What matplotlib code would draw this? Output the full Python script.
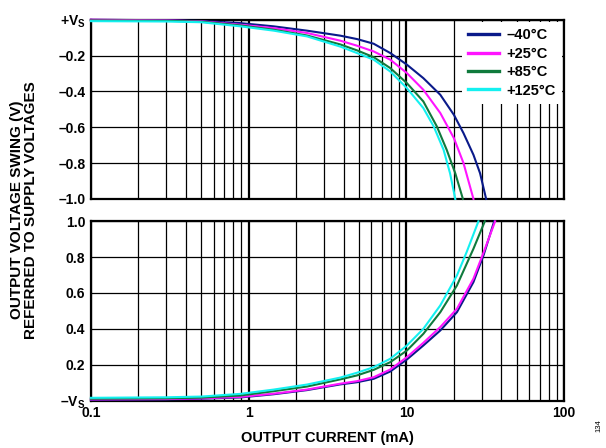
import numpy as np
import matplotlib
matplotlib.use("Agg")
from matplotlib import pyplot as plt
from matplotlib.ticker import FixedLocator, NullFormatter

plt.rcParams['font.family'] = ['Liberation Sans', 'DejaVu Sans']
plt.rcParams['font.weight'] = 'bold'
plt.rcParams['mathtext.fontset'] = 'custom'
plt.rcParams['mathtext.rm'] = 'Liberation Sans:bold'
plt.rcParams['mathtext.it'] = 'Liberation Sans:bold'
plt.rcParams['mathtext.bf'] = 'Liberation Sans:bold'

# series labels / colours
labels = ['–40°C', '+25°C', '+85°C', '+125°C']
colors = ['#0a1a8a', '#ff14ff', '#0f7a3c', '#14f0f0']

# top panel: swing from +Vs (V), x = output current (mA)
top_cur_m40 = [0.1, 0.3, 0.5, 0.887, 1.44, 2.34, 3.81, 4.86, 6.2, 7.9, 10.07, 12.8, 16.4, 20.0, 23.0, 26.6, 29.3, 32.0]
top_v_m40 = [0.0, -0.003, -0.007, -0.019, -0.037, -0.061, -0.089, -0.108, -0.134, -0.186, -0.251, -0.326, -0.419, -0.531, -0.633, -0.754, -0.857, -1.0]
top_cur_25 = [0.1, 0.3, 0.5, 0.887, 1.44, 2.34, 3.81, 4.86, 6.2, 7.9, 10.07, 12.8, 16.4, 20.0, 23.0, 26.6]
top_v_25 = [0.0, -0.004, -0.009, -0.028, -0.047, -0.074, -0.117, -0.145, -0.177, -0.223, -0.298, -0.391, -0.521, -0.661, -0.80, -1.0]
top_cur_85 = [0.1, 0.3, 0.5, 0.887, 1.44, 2.34, 3.81, 4.86, 6.2, 7.9, 10.07, 12.8, 15.6, 18.0, 20.4, 22.8]
top_v_85 = [-0.004, -0.006, -0.011, -0.032, -0.056, -0.088, -0.138, -0.171, -0.209, -0.27, -0.354, -0.456, -0.596, -0.726, -0.857, -1.0]
top_cur_125 = [0.1, 0.3, 0.5, 0.887, 1.44, 2.34, 3.81, 4.86, 6.2, 7.9, 10.07, 12.8, 14.9, 17.2, 18.9, 20.4]
top_v_125 = [-0.008, -0.01, -0.014, -0.037, -0.061, -0.093, -0.15, -0.186, -0.223, -0.289, -0.382, -0.493, -0.596, -0.726, -0.857, -1.0]

# bottom panel: swing from -Vs (V)
bot_cur_m40 = [0.1, 0.3, 0.5, 0.887, 1.44, 2.34, 3.81, 4.86, 6.2, 7.9, 10.07, 12.8, 16.4, 20.9, 26.6, 30.8, 36.0]
bot_v_m40 = [0.004, 0.006, 0.01, 0.017, 0.035, 0.058, 0.09, 0.102, 0.121, 0.162, 0.229, 0.307, 0.391, 0.493, 0.661, 0.81, 1.0]
bot_cur_25 = [0.1, 0.3, 0.5, 0.887, 1.44, 2.34, 3.81, 4.86, 6.2, 7.9, 10.07, 12.8, 16.4, 20.9, 26.6, 30.8, 36.5]
bot_v_25 = [0.006, 0.008, 0.012, 0.02, 0.038, 0.061, 0.094, 0.108, 0.130, 0.173, 0.242, 0.322, 0.41, 0.512, 0.68, 0.825, 1.0]
bot_cur_85 = [0.1, 0.3, 0.5, 0.887, 1.44, 2.34, 3.81, 4.86, 6.2, 7.9, 10.07, 12.8, 16.4, 20.9, 26.6, 31.4]
bot_v_85 = [0.01, 0.012, 0.016, 0.028, 0.052, 0.078, 0.118, 0.14, 0.171, 0.214, 0.279, 0.372, 0.493, 0.642, 0.847, 1.0]
bot_cur_125 = [0.1, 0.3, 0.5, 0.887, 1.44, 2.34, 3.81, 4.86, 6.2, 7.9, 10.07, 12.8, 16.4, 20.9, 24.1, 28.6]
bot_v_125 = [0.015, 0.018, 0.022, 0.037, 0.061, 0.089, 0.128, 0.155, 0.186, 0.233, 0.307, 0.4, 0.531, 0.698, 0.829, 1.0]

top_ticks = [0.0, -0.2, -0.4, -0.6, -0.8, -1.0]
top_ticklabels = ['+V$_\\mathregular{S}$', '–0.2', '–0.4', '–0.6', '–0.8', '–1.0']
bot_ticks = [0.0, 0.2, 0.4, 0.6, 0.8, 1.0]
bot_ticklabels = ['–V$_\\mathregular{S}$', '0.2', '0.4', '0.6', '0.8', '1.0']
x_ticks = [0.1, 1, 10, 100]
x_ticklabels = ['0.1', '1', '10', '100']

top_series = [(top_cur_m40, top_v_m40), (top_cur_25, top_v_25), (top_cur_85, top_v_85), (top_cur_125, top_v_125)]
bot_series = [(bot_cur_m40, bot_v_m40), (bot_cur_25, bot_v_25), (bot_cur_85, bot_v_85), (bot_cur_125, bot_v_125)]

fig = plt.figure(figsize=(6.06, 4.48), dpi=100)
ax1 = fig.add_axes([0.150, 0.556, 0.781, 0.400])
ax2 = fig.add_axes([0.150, 0.106, 0.781, 0.400])

minor = [m * 10.0 ** d for d in (-1, 0, 1) for m in range(2, 10)]


def style(ax, yticks, yticklabels, ylim):
    ax.set_xscale('log')
    ax.set_xlim(0.1, 100)
    ax.set_ylim(*ylim)
    ax.set_yticks(yticks)
    ax.set_yticklabels(yticklabels)
    ax.xaxis.set_major_locator(FixedLocator(x_ticks))
    ax.xaxis.set_minor_locator(FixedLocator(minor))
    ax.xaxis.set_minor_formatter(NullFormatter())
    ax.grid(True, which='major', axis='x', color='black', lw=1.6)
    ax.grid(True, which='minor', axis='x', color='black', lw=0.9)
    ax.grid(True, which='major', axis='y', color='black', lw=0.9)
    ax.tick_params(which='both', length=0, labelsize=10, pad=4)
    for s in ax.spines.values():
        s.set_linewidth(1.6)
    ax.set_axisbelow(True)


style(ax1, top_ticks, top_ticklabels, (-1.0, 0.0))
style(ax2, bot_ticks, bot_ticklabels, (0.0, 1.0))
ax1.set_xticklabels([])
ax2.set_xticklabels(x_ticklabels)

for (x, y), c, lab in zip(top_series, colors, labels):
    ax1.plot(x, y, color=c, lw=1.5, label=lab, clip_on=False, zorder=3,
             solid_joinstyle='round')
for (x, y), c in zip(bot_series, colors):
    ax2.plot(x, y, color=c, lw=1.5, clip_on=False, zorder=3,
             solid_joinstyle='round')

leg = ax1.legend(loc='upper right', frameon=True, fancybox=False, framealpha=1,
                 edgecolor='none', facecolor='white', handlelength=2.1,
                 handletextpad=0.5, labelspacing=0.3, borderpad=0.45,
                 borderaxespad=0.15, prop={'size': 10.5, 'weight': 'bold'})
for h in leg.get_lines():
    h.set_linewidth(2.4)
leg.set_zorder(5)

fig.text(0.040, 0.531, 'OUTPUT VOLTAGE SWING (V)\nREFERRED TO SUPPLY VOLTAGES',
         rotation=90, ha='center', va='center', fontsize=11, fontweight='bold',
         linespacing=1.0)
fig.text(0.540, 0.022, 'OUTPUT CURRENT (mA)', ha='center', va='center',
         fontsize=10.5, fontweight='bold')
fig.text(0.988, 0.05, '134', rotation=90, ha='center', va='center',
         fontsize=5.5, fontweight='normal')

fig.savefig('out.png', dpi=100)
